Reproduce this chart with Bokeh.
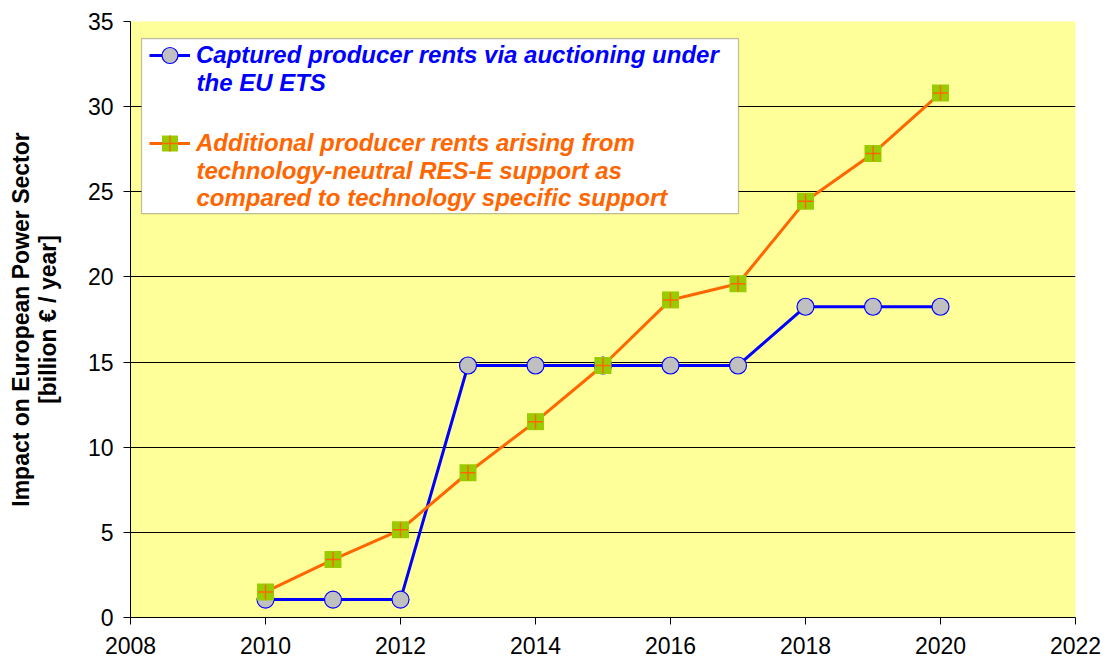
from bokeh.plotting import figure
from bokeh.models import Range1d, FixedTicker, Legend, LegendItem, BoxAnnotation, Label
from bokeh.embed import file_html
from bokeh.resources import INLINE

years = [2010, 2011, 2012, 2013, 2014, 2015, 2016, 2017, 2018, 2019, 2020]
captured = [1.05, 1.05, 1.05, 14.8, 14.8, 14.8, 14.8, 14.8, 18.25, 18.25, 18.25]
additional = [1.5, 3.4, 5.15, 8.5, 11.5, 14.8, 18.65, 19.6, 24.45, 27.25, 30.8]
x_ticks = [2008, 2010, 2012, 2014, 2016, 2018, 2020, 2022]
y_ticks = [0, 5, 10, 15, 20, 25, 30, 35]

label_blue = ["Captured producer rents via auctioning under", "the EU ETS"]
label_orange = ["Additional producer rents arising from",
                "technology-neutral RES-E support as",
                "compared to technology specific support"]

FONT = "Liberation Sans"
BLUE = "#0000FF"
ORANGE = "#FF6600"

p = figure(width=1109, height=664, output_backend="svg", toolbar_location=None,
           x_range=Range1d(2008, 2022), y_range=Range1d(0, 35),
           min_border_left=130, min_border_right=34, min_border_top=21, min_border_bottom=47)

p.background_fill_color = "#FFFF99"
p.border_fill_color = "white"
p.outline_line_color = None
p.xgrid.grid_line_color = None
p.ygrid.grid_line_color = "black"
p.ygrid.grid_line_width = 1

for ax in (p.xaxis, p.yaxis):
    ax.axis_line_color = "black"
    ax.major_tick_line_color = "black"
    ax.major_tick_in = 0
    ax.major_tick_out = 7
    ax.minor_tick_line_color = None
    ax.major_label_text_font = FONT
    ax.major_label_text_font_size = "23px"
    ax.major_label_text_color = "black"

p.xaxis.major_label_standoff = 12
p.yaxis.major_label_standoff = 10

p.xaxis.ticker = FixedTicker(ticks=x_ticks)
p.yaxis.ticker = FixedTicker(ticks=y_ticks)

p.yaxis.axis_label = "Impact on European Power Sector\n[billion \u20ac / year]"
p.yaxis.axis_label_text_font = FONT
p.yaxis.axis_label_text_font_size = "23px"
p.yaxis.axis_label_text_font_style = "bold"
p.yaxis.axis_label_text_color = "black"
p.yaxis.axis_label_text_line_height = 1.05
p.yaxis.axis_label_standoff = 24

# series
bl = p.line(years, captured, line_color=BLUE, line_width=3)
bm = p.scatter(years, captured, marker="circle", size=17, fill_color="#C0C0C0",
               line_color=BLUE, line_width=1.2)

ol = p.line(years, additional, line_color=ORANGE, line_width=3)
om = p.scatter(years, additional, marker="square", size=17, fill_color="#99CC00",
               line_color=None)
oc = p.scatter(years, additional, marker="cross", size=15, fill_color=None,
               line_color=ORANGE, line_width=1.5)

# legend box
box = BoxAnnotation(left=2008 + (141 - 130) / 67.5, right=2008 + (738 - 130) / 67.5,
                    top=(617 - 38) / 17.03, bottom=(617 - 213) / 17.03,
                    fill_color="white", fill_alpha=1.0, line_color="#222222", line_width=1.2)
p.add_layout(box)

def make_legend(text, rends, color, vy):
    lg = Legend(items=[LegendItem(label=text, renderers=rends)],
                location=(19, vy), margin=0, padding=0, spacing=0,
                glyph_width=41, glyph_height=40, label_height=24, label_standoff=6,
                label_text_font=FONT, label_text_font_size="24px",
                label_text_font_style="bold italic", label_text_color=color,
                border_line_color=None, background_fill_alpha=0)
    p.add_layout(lg)

make_legend(label_blue[0], [bl, bm], BLUE, 542)
make_legend(label_orange[0], [ol, om, oc], ORANGE, 454)

xt = 2008 + (196 - 130) / 67.5
for txt, py, col in [(label_blue[1], 82, BLUE), (label_orange[1], 170, ORANGE),
                     (label_orange[2], 197, ORANGE)]:
    p.add_layout(Label(x=xt, y=(617 - py) / 17.03, text=txt, text_baseline="middle",
                       text_font=FONT, text_font_size="24px", text_font_style="bold italic",
                       text_color=col))

open("out.html", "w").write(file_html(p, INLINE))
